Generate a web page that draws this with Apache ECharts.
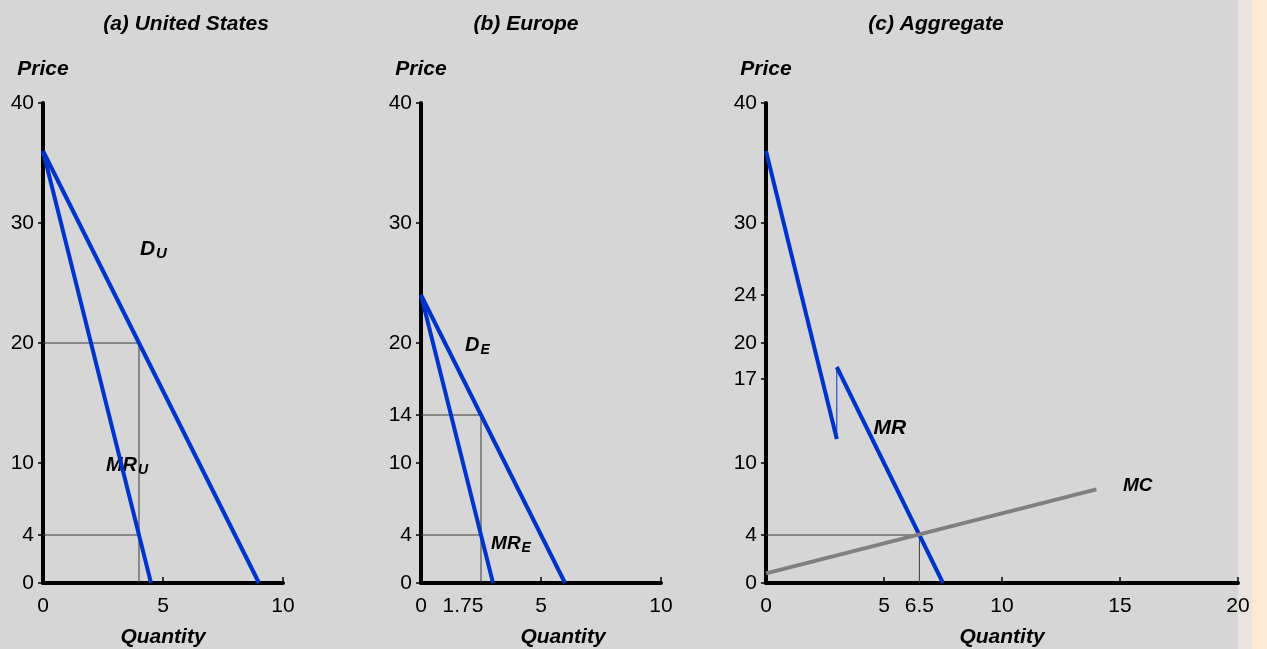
<!DOCTYPE html>
<html>
<head>
<meta charset="utf-8">
<script src="https://cdn.jsdelivr.net/npm/echarts@6/dist/echarts.min.js"></script>
<style>
  html, body { margin: 0; padding: 0; background: #d6d6d6; }
  #chart { width: 1267px; height: 649px; }
</style>
</head>
<body>
<div id="chart"></div>
<script>
// 数据 (a) 美国
var usDemandQ = [0, 9];
var usDemandP = [36, 0];
var usMrQ = [0, 4.5];
var usMrP = [36, 0];
var usGuideQ = [4];
var usGuideP = [20, 4];
var usYTicks = [0, 4, 10, 20, 30, 40];
var usXLabels = [0, 5, 10];
var usXTicks = [5, 10];

// 数据 (b) 欧洲
var euDemandQ = [0, 6];
var euDemandP = [24, 0];
var euMrQ = [0, 3];
var euMrP = [24, 0];
var euGuideQ = [2.5];
var euGuideP = [14, 4];
var euYTicks = [0, 4, 10, 14, 20, 30, 40];
var euXLabels = [0, 1.75, 5, 10];
var euXTicks = [5, 10];

// 数据 (c) 合计
var aggMrQ = [0, 3, 3, 7.5];
var aggMrP = [36, 12, 18, 0];
var mcQ = [0, 14];
var mcP = [0.8, 7.8];
var aggGuideQ = 6.5;
var aggGuideP = 4;
var aggYTicks = [0, 4, 10, 17, 20, 24, 30, 40];
var aggXLabels = [0, 5, 6.5, 10, 15, 20];
var aggXTicks = [5, 10, 15, 20];

var FONT = '"Liberation Sans", Arial, sans-serif';
var BLUE = '#0033cc';

function pts(qs, ps) {
  return qs.map(function (q, i) { return [q, ps[i]]; });
}

function richLabel(main, sub, size) {
  return {
    show: true,
    position: 'inside',
    formatter: sub ? '{m|' + main + '}{s|' + sub + '}' : '{m|' + main + '}',
    rich: {
      m: { fontFamily: FONT, fontSize: size, fontWeight: 'bold', fontStyle: 'italic', color: '#000' },
      s: { fontFamily: FONT, fontSize: Math.round(size * 0.72), fontWeight: 'bold', fontStyle: 'italic', color: '#000', padding: [9, 0, 0, 1] }
    }
  };
}

function tag(coord, main, sub, size) {
  return {
    coord: coord,
    symbol: 'circle',
    symbolSize: 0,
    label: richLabel(main, sub, size)
  };
}

function curve(idx, data, color, width, marks) {
  var s = {
    type: 'line',
    xAxisIndex: idx,
    yAxisIndex: idx,
    data: data,
    showSymbol: false,
    silent: true,
    z: 5,
    lineStyle: { color: color, width: width, cap: 'butt' }
  };
  if (marks) {
    s.markPoint = { silent: true, data: marks };
  }
  return s;
}

function guide(idx, data) {
  return {
    type: 'line',
    xAxisIndex: idx,
    yAxisIndex: idx,
    data: data,
    showSymbol: false,
    silent: true,
    z: 3,
    lineStyle: { color: '#3a3a3a', width: 1 }
  };
}

function xAxis(idx, max, labels, ticks, namePad) {
  return {
    gridIndex: idx,
    type: 'value',
    min: 0,
    max: max,
    name: 'Quantity',
    nameLocation: 'middle',
    nameGap: 44,
    nameTextStyle: { fontFamily: FONT, fontSize: 21, fontWeight: 'bold', fontStyle: 'italic', color: '#000', padding: [0, 0, 0, namePad || 0] },
    axisLine: { lineStyle: { color: '#000', width: 4 } },
    axisTick: { show: true, inside: true, length: 6, customValues: ticks, lineStyle: { color: '#000', width: 1.5 } },
    axisLabel: { customValues: labels, margin: 13, fontFamily: FONT, fontSize: 21, color: '#000' },
    splitLine: { show: false }
  };
}

function yAxis(idx, ticks) {
  return {
    gridIndex: idx,
    type: 'value',
    min: 0,
    max: 40,
    name: 'Price',
    nameLocation: 'end',
    nameGap: 23,
    nameTextStyle: { fontFamily: FONT, fontSize: 21, fontWeight: 'bold', fontStyle: 'italic', color: '#000', align: 'center' },
    axisLine: { lineStyle: { color: '#000', width: 4 } },
    axisTick: { show: true, inside: false, length: 5, customValues: ticks, lineStyle: { color: '#000', width: 1.5 } },
    axisLabel: { customValues: ticks, margin: 9, fontFamily: FONT, fontSize: 21, color: '#000' },
    splitLine: { show: false }
  };
}

var titleStyle = { fontFamily: FONT, fontSize: 21, fontWeight: 'bold', fontStyle: 'italic', color: '#000' };

var option = {
  backgroundColor: '#d6d6d6',
  animation: false,
  title: [
    { text: '(a) United States', left: 181, top: 9, textAlign: 'center', textStyle: titleStyle },
    { text: '(b) Europe', left: 521, top: 9, textAlign: 'center', textStyle: titleStyle },
    { text: '(c) Aggregate', left: 931, top: 9, textAlign: 'center', textStyle: titleStyle }
  ],
  graphic: [
    { type: 'rect', shape: { x: 1238, y: 0, width: 14, height: 649 }, style: { fill: '#ece2e0' }, z: -10, silent: true },
    { type: 'rect', shape: { x: 1252, y: 0, width: 15, height: 649 }, style: { fill: '#fbe9d6' }, z: -10, silent: true }
  ],
  grid: [
    { left: 43, top: 103, width: 240, height: 480, outerBoundsMode: 'none' },
    { left: 421, top: 103, width: 240, height: 480, outerBoundsMode: 'none' },
    { left: 766, top: 103, width: 472, height: 480, outerBoundsMode: 'none' }
  ],
  xAxis: [
    xAxis(0, 10, usXLabels, usXTicks),
    xAxis(1, 10, euXLabels, euXTicks, 44),
    xAxis(2, 20, aggXLabels, aggXTicks)
  ],
  yAxis: [
    yAxis(0, usYTicks),
    yAxis(1, euYTicks),
    yAxis(2, aggYTicks)
  ],
  series: [
    // (a)
    guide(0, [[0, usGuideP[0]], [usGuideQ[0], usGuideP[0]], [usGuideQ[0], 0]]),
    guide(0, [[0, usGuideP[1]], [usGuideQ[0], usGuideP[1]]]),
    curve(0, pts(usDemandQ, usDemandP), BLUE, 4, [tag([4.6, 27.8], 'D', 'U', 21)]),
    curve(0, pts(usMrQ, usMrP), BLUE, 4, [tag([3.5, 9.8], 'MR', 'U', 20)]),
    // (b)
    guide(1, [[0, euGuideP[0]], [euGuideQ[0], euGuideP[0]], [euGuideQ[0], 0]]),
    guide(1, [[0, euGuideP[1]], [euGuideQ[0], euGuideP[1]]]),
    curve(1, pts(euDemandQ, euDemandP), BLUE, 4, [tag([2.35, 19.8], 'D', 'E', 20)]),
    curve(1, pts(euMrQ, euMrP), BLUE, 4, [tag([3.75, 3.3], 'MR', 'E', 19)]),
    // (c)
    guide(2, [[0, aggGuideP], [aggGuideQ, aggGuideP], [aggGuideQ, 0]]),
    curve(2, pts(aggMrQ.slice(0, 2), aggMrP.slice(0, 2)), BLUE, 4),
    curve(2, pts(aggMrQ.slice(1, 3), aggMrP.slice(1, 3)), BLUE, 1),
    curve(2, pts(aggMrQ.slice(2, 4), aggMrP.slice(2, 4)), BLUE, 4, [tag([5.25, 12.9], 'MR', null, 21)]),
    curve(2, pts(mcQ, mcP), '#808080', 4, [tag([15.75, 8.1], 'MC', null, 19)])
  ]
};

var chart = echarts.init(document.getElementById('chart'), null, { renderer: 'canvas' });
chart.setOption(option);
</script>
</body>
</html>
